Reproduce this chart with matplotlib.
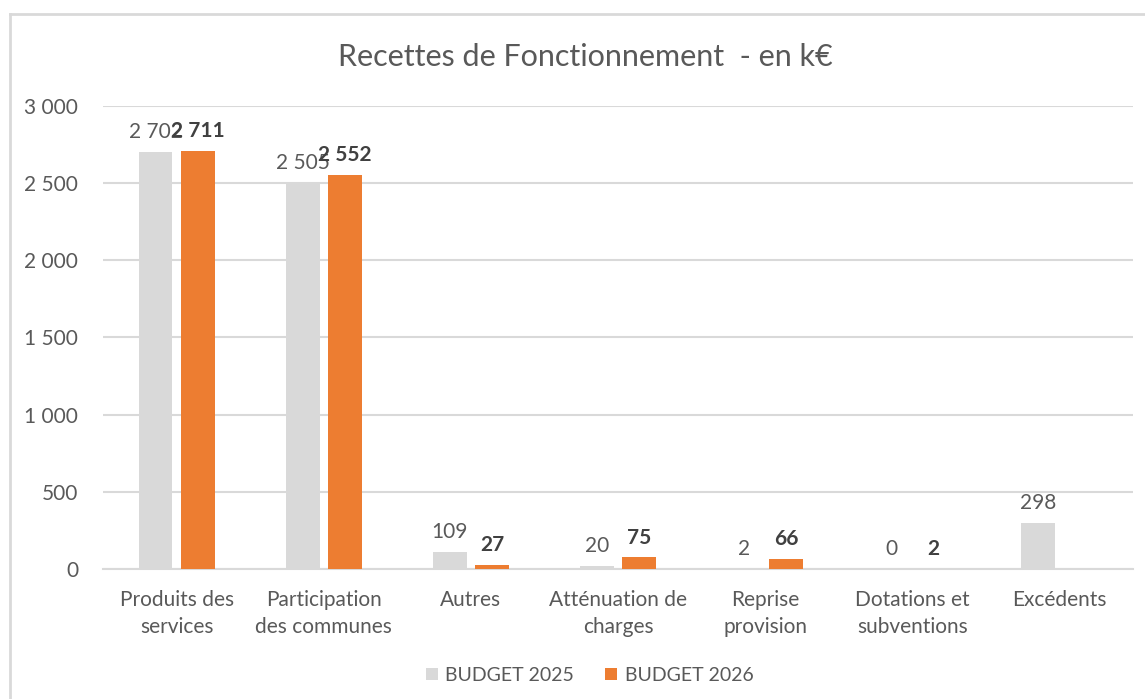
import matplotlib
matplotlib.use('Agg')
import matplotlib.pyplot as plt
from matplotlib.lines import Line2D
from matplotlib.ticker import FuncFormatter
import numpy as np

plt.rcParams['font.family'] = ['Lato', 'DejaVu Sans']

# --- données ---
categories = ['Produits des\nservices', 'Participation\ndes communes', 'Autres',
              'Atténuation de\ncharges', 'Reprise\nprovision', 'Dotations et\nsubventions',
              'Excédents']
budget_2025 = [2702, 2505, 109, 20, 2, 0, 298]
budget_2026 = [2711, 2552, 27, 75, 66, 2, np.nan]
series_names = ['BUDGET 2025', 'BUDGET 2026']
y_ticks = [0, 500, 1000, 1500, 2000, 2500, 3000]

txt_color = '#595959'
grid_color = '#d9d9d9'
c2025 = '#d9d9d9'
c2026 = '#ed7d31'

def fmt_k(v):
    return f"{int(v):,}".replace(',', ' ')

fig = plt.figure(figsize=(11.45, 6.99), dpi=100)
fig.patch.set_facecolor('white')
ax = fig.add_axes([0.09, 0.186, 0.8995, 0.6624])

x = np.arange(len(categories))
w = 0.23
off = 0.143
b1 = ax.bar(x - off, budget_2025, width=w, color=c2025, label=series_names[0], zorder=3)
b2 = ax.bar(x + off, budget_2026, width=w, color=c2026, label=series_names[1], zorder=3)

# étiquettes de données
for xi, v in zip(x - off, budget_2025):
    if not np.isnan(v):
        ax.annotate(fmt_k(v), (xi, v), xytext=(0, 7), textcoords='offset points',
                    ha='center', va='bottom', fontsize=15, color=txt_color, zorder=4)
for xi, v in zip(x + off, budget_2026):
    if not np.isnan(v):
        ax.annotate(fmt_k(v), (xi, v), xytext=(0, 7), textcoords='offset points',
                    ha='center', va='bottom', fontsize=15, color='#404040',
                    fontweight='bold', zorder=5)

ax.set_xlim(-0.5, len(categories) - 0.5)
ax.set_ylim(0, 3000)
ax.set_yticks(y_ticks)
ax.yaxis.set_major_formatter(FuncFormatter(lambda v, p: fmt_k(v)))
ax.set_xticks(x)
ax.set_xticklabels(categories, fontsize=15, color=txt_color, linespacing=1.45)
ax.tick_params(axis='y', labelsize=15, labelcolor=txt_color, length=0, pad=18)
ax.tick_params(axis='x', length=0, pad=15)

ax.grid(axis='y', color=grid_color, linewidth=1.5, zorder=0)
for s in ['top', 'right', 'left']:
    ax.spines[s].set_visible(False)
ax.spines['bottom'].set_color(grid_color)
ax.spines['bottom'].set_linewidth(1.5)

fig.text(0.511, 0.918, 'Recettes de Fonctionnement  - en k€', ha='center', va='center',
         fontsize=22, color=txt_color)

fig.legend(handles=[b1, b2], labels=series_names, loc='center', bbox_to_anchor=(0.515, 0.034),
           ncol=2, frameon=False, fontsize=14, labelcolor=txt_color,
           handlelength=0.6, handleheight=0.6, handletextpad=0.4, columnspacing=1.6)

# cadre du graphique
fig.add_artist(Line2D([10 / 1145, 10 / 1145], [0, 1 - 14 / 699], color=grid_color, linewidth=2))
fig.add_artist(Line2D([10 / 1145, 1], [1 - 14 / 699, 1 - 14 / 699], color=grid_color, linewidth=2))

fig.savefig('out.png', dpi=100)
